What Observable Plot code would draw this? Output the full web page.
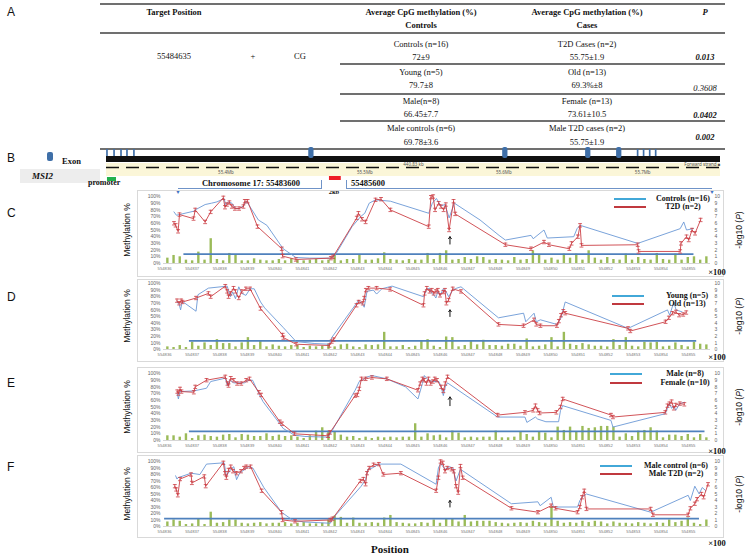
<!DOCTYPE html>
<html><head><meta charset="utf-8">
<script src="https://cdn.jsdelivr.net/npm/d3@7"></script>
<script src="https://cdn.jsdelivr.net/npm/@observablehq/plot@0.6"></script>
<style>
html,body{margin:0;padding:0;background:#fff}
#fig{position:relative;width:745px;height:556px;overflow:hidden;font-family:"Liberation Serif",serif;color:#111}
.tx{position:absolute;white-space:nowrap;line-height:1}
.hl{position:absolute;background:#707070}
.frame{position:absolute;border:1px solid #d9d9d9;box-sizing:border-box}
.abs{position:absolute}
</style></head><body><div id="fig"></div>
<script>
// ---------------- Panel A: table ----------------
const tableHeaders = ["Target Position", "Average CpG methylation (%)", "Controls", "Average CpG methylation (%)", "Cases", "P"];
const targetInfo = ["55484635", "+", "CG"];
const controlGroups = ["Controls (n=16)", "Young (n=5)", "Male(n=8)", "Male controls (n=6)"];
const controlValues = ["72±9", "79.7±8", "66.45±7.7", "69.78±3.6"];
const caseGroups = ["T2D Cases (n=2)", "Old (n=13)", "Female (n=13)", "Male T2D cases (n=2)"];
const caseValues = ["55.75±1.9", "69.3%±8", "73.61±10.5", "55.75±1.9"];
const pValues = ["0.013", "0.3608", "0.0402", "0.002"];
const pBold = [true, false, true, true];

// ---------------- Panel B: gene track ----------------
const exonsSmall = [55.3147, 55.3198, 55.3248, 55.3291, 55.3341, 55.6967, 55.7010, 55.7054, 55.7097];
const exonsLarge = [55.4615, 55.6011, 55.6608, 55.6831];
const geneSpan = [55.314, 55.756];
const rulerLabels = ["55.4Mb", "55.5Mb", "55.6Mb", "55.7Mb"];
const rulerPos = [55.40, 55.50, 55.60, 55.70];
const promoterSpan = [55.3147, 55.3212];
const regionSpan = [55.4745, 55.4830];

// ---------------- Panels C-F: methylation profiles ----------------
const targetPosition = 55484635;
const xTickLabels = [554836,554837,554838,554839,554840,554841,554842,554843,554844,554845,554846,554847,554848,554849,554850,554851,554852,554853,554854,554855];
const yTicks = [0,10,20,30,40,50,60,70,80,90,100];

const C_blue = [[554836.34,77],[554836.43,72],[554837.05,78],[554837.11,80],[554837.47,88],[554837.70,90],[554837.90,92],[554838.16,97],[554838.21,88],[554838.32,92],[554838.44,90],[554838.57,82],[554838.70,82],[554838.86,86],[554838.97,93],[554839.40,65],[554839.71,57],[554840.30,22],[554840.76,9],[554841.26,8],[554842.03,8],[554842.18,12],[554842.80,55],[554843.11,70],[554843.26,75],[554843.42,90],[554843.65,95],[554844.19,93],[554845.58,75],[554845.71,90],[554845.86,97],[554846.02,86],[554846.17,88],[554846.32,68],[554846.51,90],[554847.44,65],[554848.13,42],[554848.36,35],[554849.29,42],[554849.37,37],[554849.76,50],[554849.88,38],[554850.84,40],[554850.96,52],[554851.07,57],[554853.16,30],[554854.70,52],[554854.83,62],[554854.93,50],[554855.17,52]];
const C_red = [[554836.34,60],[554836.40,57],[554836.49,48],[554836.54,73],[554837.05,67],[554837.11,80],[554837.47,62],[554837.67,77],[554838.13,98],[554838.19,84],[554838.26,88],[554838.35,91],[554838.44,85],[554838.55,82],[554838.70,82],[554838.86,85],[554838.91,93],[554839.01,93],[554839.37,55],[554840.25,22],[554840.28,11],[554840.76,6],[554842.03,8],[554842.11,10],[554842.97,68],[554843.03,75],[554843.16,66],[554843.29,62],[554843.65,95],[554843.85,96],[554844.19,80],[554845.58,55],[554845.66,99],[554845.74,100],[554845.81,80],[554845.94,90],[554846.02,85],[554846.12,80],[554846.20,88],[554846.32,50],[554846.48,93],[554846.54,74],[554848.36,28],[554849.29,22],[554849.76,32],[554849.94,28],[554850.68,22],[554850.76,30],[554850.99,40],[554851.07,57],[554851.12,27],[554853.16,28],[554853.19,18],[554854.70,18],[554854.73,30],[554854.93,40],[554855.01,35],[554855.13,50],[554855.24,45],[554855.44,65]];
const C_bars = [0.8,1.2,1.0,0.5,0.4,1.7,0.5,3.7,0.6,0.4,1.5,1.2,0.4,0.4,0.7,0.5,0.4,0.4,0.6,0.4,0.7,0.5,0.4,0.5,0.6,0.4,0.5,1.3,0.4,0.6,0.6,1.2,0.5,0.5,0.7,1.6,0.6,0.5,0.4,0.6,0.5,0.5,1.5,0.6,1.5,1.9,0.5,0.6,0.9,0.6,1.0,0.9,0.5,0.6,0.5,0.4,0.9,0.5,0.6,1.9,1.3,0.5,0.8,0.5,1.4,0.8,1.4,0.5,1.9,0.8,0.5,0.9,0.6,0.5,1.4,0.5,0.9,0.6,0.5,1.5,0.6,0.5,1.4,0.5,0.9,1.0,0.5,1.0];

const D_blue = [[554836.45,72],[554836.53,68],[554836.58,60],[554836.64,73],[554837.14,58],[554837.21,83],[554837.59,93],[554838.27,96],[554838.39,80],[554838.47,87],[554838.57,77],[554838.69,95],[554838.80,85],[554838.95,82],[554839.10,92],[554839.25,92],[554839.48,72],[554839.63,63],[554840.31,33],[554840.77,12],[554841.45,9],[554841.98,8],[554842.06,18],[554842.96,70],[554843.04,75],[554843.19,68],[554843.24,64],[554843.34,88],[554843.57,90],[554843.69,84],[554843.88,92],[554844.25,96],[554845.39,80],[554845.51,91],[554845.61,93],[554845.69,85],[554845.76,83],[554845.84,78],[554845.91,88],[554845.99,82],[554846.11,92],[554846.22,87],[554846.30,80],[554846.45,90],[554846.60,93],[554846.75,95],[554848.11,48],[554849.02,55],[554849.10,42],[554849.40,55],[554849.48,42],[554849.63,45],[554850.23,38],[554850.38,48],[554850.53,72],[554852.81,32],[554854.24,60],[554854.32,52],[554854.47,72],[554854.55,60],[554854.77,57]];
const D_red = [[554836.45,74],[554836.53,70],[554836.60,74],[554836.65,72],[554837.14,78],[554837.59,85],[554837.67,80],[554838.20,96],[554838.27,88],[554838.32,80],[554838.39,85],[554838.50,93],[554838.57,88],[554838.69,78],[554838.80,88],[554838.95,92],[554839.10,92],[554839.48,62],[554840.28,22],[554840.31,18],[554840.77,8],[554841.98,6],[554842.06,12],[554842.13,15],[554842.96,67],[554843.04,72],[554843.19,70],[554843.24,78],[554843.30,90],[554843.39,93],[554843.69,93],[554844.18,91],[554845.39,67],[554845.43,85],[554845.51,93],[554845.61,88],[554845.69,90],[554845.76,85],[554845.84,88],[554845.91,90],[554845.99,82],[554846.11,87],[554846.17,90],[554846.22,70],[554846.30,75],[554846.45,92],[554846.75,88],[554848.11,38],[554849.02,36],[554849.40,45],[554849.48,38],[554849.63,36],[554850.23,36],[554850.30,43],[554850.38,52],[554850.46,58],[554850.53,55],[554852.81,32],[554852.89,28],[554854.17,42],[554854.29,48],[554854.42,55],[554854.55,57],[554854.66,52],[554854.81,53],[554854.92,56]];
const D_bars = [0.4,0.3,0.6,0.3,1.1,0.5,1.0,0.6,1.5,0.9,0.9,0.4,1.0,1.8,0.6,1.2,0.4,0.7,0.5,0.4,0.6,0.6,0.3,0.5,0.4,0.5,0.8,0.4,0.7,0.8,0.4,0.3,0.7,0.6,0.7,2.6,0.4,0.4,0.6,0.3,0.5,1.2,1.5,0.5,0.3,1.9,1.8,0.4,0.6,1.2,0.7,1.4,0.6,0.6,0.5,0.8,0.8,0.5,1.6,0.4,0.5,0.7,1.8,0.4,2.6,0.8,0.6,0.9,0.7,0.5,0.5,0.4,1.5,0.6,1.8,0.5,0.4,1.1,1.0,1.1,0.4,0.5,1.0,0.6,0.4,1.1,0.8,0.7];

const E_blue = [[554836.46,70],[554836.50,62],[554836.56,73],[554837.06,74],[554837.52,78],[554837.67,88],[554838.20,93],[554838.28,82],[554838.36,90],[554838.51,86],[554838.66,86],[554838.89,86],[554839.04,90],[554839.19,90],[554839.42,70],[554839.57,58],[554840.18,25],[554840.30,18],[554840.71,8],[554841.09,6],[554841.93,5],[554842.08,15],[554842.91,75],[554843.06,88],[554843.22,91],[554843.29,94],[554843.52,97],[554844.06,92],[554844.74,80],[554845.19,62],[554845.35,85],[554845.42,97],[554845.57,90],[554845.73,88],[554845.95,88],[554846.03,80],[554846.11,67],[554846.18,80],[554846.26,86],[554848.08,35],[554849.07,35],[554849.14,27],[554849.45,35],[554849.53,32],[554849.83,28],[554850.29,28],[554850.36,45],[554850.44,52],[554852.19,30],[554852.26,20],[554854.16,40],[554854.24,48],[554854.31,55],[554854.39,48],[554854.47,52],[554854.54,45],[554854.69,55],[554854.85,57]];
const E_red = [[554836.46,73],[554836.50,70],[554836.56,77],[554836.61,73],[554837.06,72],[554837.11,80],[554837.52,90],[554838.20,95],[554838.28,85],[554838.32,82],[554838.40,93],[554838.51,90],[554838.63,85],[554838.78,85],[554838.96,90],[554839.08,92],[554839.42,72],[554839.50,68],[554840.18,28],[554840.26,25],[554840.71,10],[554841.93,7],[554842.00,12],[554842.91,67],[554842.99,68],[554843.06,77],[554843.14,92],[554843.29,92],[554843.52,94],[554844.06,92],[554845.19,75],[554845.27,85],[554845.35,92],[554845.42,90],[554845.50,85],[554845.57,92],[554845.65,85],[554845.73,88],[554845.80,92],[554845.88,90],[554846.03,80],[554846.11,74],[554846.18,85],[554846.26,95],[554848.08,38],[554849.07,42],[554849.37,45],[554849.45,52],[554849.53,45],[554849.60,41],[554850.21,42],[554850.36,50],[554850.44,62],[554852.19,38],[554852.26,35],[554854.16,42],[554854.24,52],[554854.31,55],[554854.39,58],[554854.47,48],[554854.54,53],[554854.69,55],[554854.85,54]];
const E_bars = [0.7,0.7,0.5,1.0,0.3,0.7,0.8,0.6,0.5,0.8,0.9,0.4,0.9,0.8,0.6,0.6,1.0,0.6,0.8,0.6,0.7,0.5,0.3,0.7,1.4,1.9,1.4,1.2,0.8,0.5,0.6,0.3,0.5,0.3,0.5,0.4,0.5,0.4,0.5,0.5,2.5,0.5,1.0,0.7,0.8,0.4,1.4,1.1,0.4,0.5,0.4,0.5,0.5,1.4,0.4,0.4,0.5,1.2,0.9,0.5,1.3,1.1,0.4,2.0,1.5,2.0,1.3,2.1,1.8,1.9,2.1,2.1,2.0,0.5,1.0,0.6,1.4,1.5,1.9,1.4,0.4,0.8,0.8,0.6,0.9,0.4,0.9,0.4];

const F_blue = [[554836.40,78],[554836.45,73],[554836.48,75],[554836.96,82],[554837.28,80],[554837.52,96],[554838.16,98],[554838.24,78],[554838.40,88],[554838.51,92],[554838.61,72],[554838.72,82],[554839.04,92],[554839.20,90],[554839.60,60],[554840.24,22],[554840.64,10],[554841.05,7],[554842.01,5],[554842.09,12],[554843.13,62],[554843.29,72],[554843.37,88],[554843.53,90],[554843.77,96],[554844.57,96],[554845.85,65],[554845.93,90],[554846.01,97],[554846.17,88],[554846.33,92],[554846.46,90],[554846.57,70],[554846.73,88],[554848.58,35],[554849.54,38],[554849.62,32],[554850.02,45],[554850.10,30],[554850.18,30],[554850.98,30],[554851.06,40],[554851.14,45],[554851.30,50],[554853.63,22],[554854.99,48],[554855.07,40],[554855.23,62],[554855.39,50],[554855.50,60],[554855.63,55]];
const F_red = [[554836.37,62],[554836.42,57],[554836.48,48],[554836.56,73],[554836.96,80],[554836.99,67],[554837.44,77],[554837.49,62],[554838.13,98],[554838.19,82],[554838.24,75],[554838.32,87],[554838.40,92],[554838.48,85],[554838.61,82],[554838.77,85],[554838.88,90],[554838.96,92],[554839.12,92],[554839.52,55],[554840.24,22],[554840.28,10],[554840.73,8],[554842.01,10],[554842.09,12],[554843.10,70],[554843.21,73],[554843.29,65],[554843.34,82],[554843.42,90],[554843.58,95],[554843.77,96],[554843.93,80],[554844.57,82],[554845.85,55],[554845.93,75],[554846.01,100],[554846.09,98],[554846.17,85],[554846.25,90],[554846.41,88],[554846.49,85],[554846.57,62],[554846.65,52],[554846.73,93],[554846.81,75],[554848.58,28],[554849.54,22],[554850.02,32],[554850.18,28],[554850.98,22],[554851.06,30],[554851.14,45],[554851.22,55],[554851.30,27],[554853.63,27],[554853.71,18],[554854.99,18],[554855.07,28],[554855.23,35],[554855.31,42],[554855.47,50],[554855.55,45],[554855.71,65]];
const F_bars = [0.7,1.0,0.8,0.3,0.4,1.2,0.3,2.2,0.5,0.6,1.0,1.0,0.5,0.4,0.5,0.6,0.4,0.5,0.5,0.6,0.4,0.5,0.6,0.4,0.4,0.5,1.0,1.6,1.4,0.5,1.3,0.5,0.5,0.6,0.5,1.3,1.7,0.6,0.5,0.4,0.4,0.6,0.5,1.0,0.5,1.1,1.1,0.7,1.7,0.7,0.8,0.8,0.8,0.6,0.5,0.4,0.5,0.6,0.5,0.8,0.6,0.5,3.0,0.8,0.5,0.6,0.5,0.8,0.6,0.8,0.7,0.4,0.7,0.5,0.5,0.4,0.6,0.5,0.4,0.6,0.5,1.0,0.6,0.8,1.3,0.5,0.3,1.0];

const legendC = ["Controls (n=16)", "T2D (n=2)"];
const legendD = ["Young (n=5)", "Old (n=13)"];
const legendE = ["Male (n=8)", "Female (n=10)"];
const legendF = ["Male control (n=6)", "Male T2D (n=2)"];
const thresholds = {C: 1.4, D: 1.3, E: 1.35, F: 1.2};

// ---------------- layout helpers ----------------
const fig = document.getElementById("fig");
function text(str, x, y, opts = {}) {
  const d = document.createElement("div");
  d.className = "tx";
  d.innerHTML = str;
  const a = opts.anchor || "middle";
  const tx = a === "middle" ? "-50%" : a === "end" ? "-100%" : "0";
  d.style.left = x + "px"; d.style.top = y + "px";
  d.style.transform = `translate(${tx},-50%)` + (opts.rotate ? ` rotate(${opts.rotate}deg)` : "");
  d.style.fontSize = (opts.size || 8) + "px";
  if (opts.bold) d.style.fontWeight = "bold";
  if (opts.italic) d.style.fontStyle = "italic";
  if (opts.family) d.style.fontFamily = opts.family;
  if (opts.color) d.style.color = opts.color;
  fig.appendChild(d);
  return d;
}
function hline(x1, x2, y, w = 1, color = "#707070") {
  const d = document.createElement("div");
  d.className = "hl";
  Object.assign(d.style, {left: x1 + "px", top: (y - w / 2) + "px", width: (x2 - x1) + "px", height: w + "px", background: color});
  fig.appendChild(d);
}
function box(x1, y1, x2, y2, cls, style = {}) {
  const d = document.createElement("div");
  d.className = cls;
  Object.assign(d.style, {left: x1 + "px", top: y1 + "px", width: (x2 - x1) + "px", height: (y2 - y1) + "px"}, style);
  fig.appendChild(d);
  return d;
}
const SANS = '"Liberation Sans", Arial, sans-serif';

// ---------------- Panel A ----------------
text("A", 7, 12, {size: 12, family: SANS, anchor: "start"});
const colX = {target: 174, strand: 253, ctx: 300, ctrl: 421, cases: 587, p: 705};
const TS = 8.5;
hline(100, 725, 4, 2);
text(tableHeaders[0], colX.target, 12, {bold: true, size: TS});
text(tableHeaders[1], colX.ctrl, 12, {bold: true, size: TS});
text(tableHeaders[2], colX.ctrl, 25, {bold: true, size: TS});
text(tableHeaders[3], colX.cases, 12, {bold: true, size: TS});
text(tableHeaders[4], colX.cases, 25, {bold: true, size: TS});
text(tableHeaders[5], colX.p, 12, {bold: true, italic: true, size: TS});
hline(100, 725, 33, 1.2);
const rowName = [44, 72, 101, 128];
const rowVal = [57, 85, 114, 142];
const rowP = [57, 88, 115, 137];
const rowLine = [64, 94, 121];
text(targetInfo[0], colX.target, 56, {size: TS});
text(targetInfo[1], colX.strand, 56, {size: TS});
text(targetInfo[2], colX.ctx, 56, {size: TS});
for (let i = 0; i < 4; i++) {
  text(controlGroups[i], colX.ctrl, rowName[i], {size: TS});
  text(caseGroups[i], colX.cases, rowName[i], {size: TS});
  text(controlValues[i], colX.ctrl, rowVal[i], {size: TS});
  text(caseValues[i], colX.cases, rowVal[i], {size: TS});
  text(pValues[i], colX.p, rowP[i], {size: TS, italic: true, bold: pBold[i]});
  if (i < 3) hline(340, 725, rowLine[i], 1.4);
}
hline(100, 725, 148.5, 2);

// ---------------- Panel B ----------------
text("B", 7, 158, {size: 12, family: SANS, anchor: "start"});
box(47, 152, 53, 161, "abs", {background: "#3f6fa8", borderRadius: "2px"});
text("Exon", 62, 161, {bold: true, size: 8.5, anchor: "start"});
box(20, 169, 100, 183, "abs", {background: "#ededed"});
text("MSI2", 32, 176, {bold: true, italic: true, size: 9, anchor: "start"});
text("promoter", 88, 183, {bold: true, size: 8, anchor: "start"});

const geneTrack = Plot.plot({
  width: 745, height: 56,
  marginLeft: 106, marginRight: 25, marginTop: 0, marginBottom: 0,
  x: {domain: geneSpan, axis: null},
  y: {domain: [0, 56], range: [0, 56], axis: null},
  marks: [
    Plot.rect([0], {x1: geneSpan[0], x2: geneSpan[1], y1: 21, y2: 34, fill: "#fbf6d8"}),
    Plot.ruleY([25], {x1: geneSpan[0], x2: geneSpan[1], stroke: "#111", strokeWidth: 1.6, strokeDasharray: "13,7"}),
    Plot.text(rulerLabels, {x: (d, i) => rulerPos[i], y: 30, text: d => d, fontSize: 4.5, fill: "#555"}),
    Plot.text(["440.83 kb"], {x: (geneSpan[0] + geneSpan[1]) / 2, y: 22, fontSize: 4.5, fill: "#555"}),
    Plot.text(["Forward strand ■"], {x: geneSpan[1], y: 22, textAnchor: "end", fontSize: 4.5, fill: "#555"}),
    Plot.rect([0], {x1: geneSpan[0], x2: geneSpan[1], y1: 14, y2: 20, fill: "#111"}),
    Plot.rect(exonsSmall, {x1: d => d - 0.0006, x2: d => d + 0.0006, y1: 7, y2: 14, fill: "#3f6fa8"}),
    Plot.rect(exonsLarge, {x1: d => d - 0.0019, x2: d => d + 0.0019, y1: 5, y2: 16, fill: "#3f6fa8", rx: 2}),
    Plot.rect([0], {x1: promoterSpan[0], x2: promoterSpan[1], y1: 35, y2: 39, fill: "#22b14c"}),
    Plot.rect([0], {x1: regionSpan[0], x2: regionSpan[1], y1: 34, y2: 38, fill: "#ee1c24"})
  ]
});
geneTrack.style.position = "absolute"; geneTrack.style.left = "0px"; geneTrack.style.top = "142px";
fig.appendChild(geneTrack);

// brackets from region to the zoomed chart C
const bracketY = 188;
box(321, 180, 322, bracketY, "abs", {background: "#6f93c8"});
box(178, bracketY - 0.5, 322, bracketY + 0.5, "abs", {background: "#6f93c8"});
box(346, 180, 347, bracketY, "abs", {background: "#6f93c8"});
box(346, bracketY - 0.5, 712, bracketY + 0.5, "abs", {background: "#6f93c8"});
text("▼", 178, bracketY + 3, {size: 7, color: "#3f72c4", family: SANS});
text("▼", 712, bracketY + 3, {size: 7, color: "#3f72c4", family: SANS});
text("Chromosome 17: 55483600", 251, 183, {bold: true, size: 8.5});
text("55485600", 351, 183, {bold: true, size: 8.5, anchor: "start"});
text("2kb", 334, 192, {bold: true, size: 6.5});

// ---------------- Panels C-F ----------------
const COLORS = {blue: "#6b98d6", red: "#cc3f45", green: "#9bbb59", thr: "#4f81bd", legBlue: "#42a8d8", legRed: "#c0393f"};
const barFirst = 554836.1, barLast = 554855.65;
const PLOT_L = 163, PLOT_R = 710, X0 = 554835.96, X1 = 554855.8;

function methPanel(cfg) {
  const blue = cfg.blue.map(([x, y]) => ({x, y}));
  const red = cfg.red.map(([x, y]) => ({x, y}));
  const step = (barLast - barFirst) / (cfg.bars.length - 1);
  const bars = cfg.bars.map((v, i) => ({x: barFirst + i * step, v}));
  const err = 2.5, cap = 0.07;
  const mt = 6, mb = 12;
  const h = (cfg.y0 - cfg.y100) + mt + mb;
  const svgLeft = 120, width = 620;
  const chart = Plot.plot({
    width, height: h,
    marginLeft: PLOT_L - svgLeft, marginRight: svgLeft + width - PLOT_R, marginTop: mt, marginBottom: mb,
    x: {domain: [X0, X1]},
    y: {domain: [0, 100]},
    style: {fontFamily: SANS, background: "transparent", overflow: "visible"},
    marks: [
      Plot.axisY({anchor: "left", ticks: yTicks, tickFormat: d => d + "%", tickSize: 0, tickPadding: 3, fontSize: 5, fill: "#666", label: null}),
      Plot.axisY({anchor: "right", ticks: yTicks, tickFormat: d => d / 10, tickSize: 0, tickPadding: 4, fontSize: 5, fill: "#666", label: null}),
      Plot.axisX({ticks: xTickLabels, tickFormat: d => String(d), tickSize: 0, tickPadding: 4, fontSize: 4.2, fill: "#777", label: null}),
      Plot.ruleY([0], {stroke: "#bbb", strokeWidth: 0.6}),
      Plot.ruleX(bars, {x: "x", y1: 0, y2: d => d.v * 10, stroke: COLORS.green, strokeWidth: 2.4}),
      Plot.ruleY([cfg.thr * 10], {x1: cfg.thrRange[0], x2: cfg.thrRange[1], stroke: COLORS.thr, strokeWidth: 1.8}),
      Plot.line(blue, {x: "x", y: "y", stroke: COLORS.blue, strokeWidth: 0.9}),
      Plot.line(red, {x: "x", y: "y", stroke: COLORS.red, strokeWidth: 0.9}),
      Plot.ruleX(red, {x: "x", y1: d => d.y - err, y2: d => d.y + err, stroke: COLORS.red, strokeWidth: 0.8}),
      Plot.link(red, {x1: d => d.x - cap, x2: d => d.x + cap, y1: d => d.y + err, y2: d => d.y + err, stroke: COLORS.red, strokeWidth: 0.8}),
      Plot.link(red, {x1: d => d.x - cap, x2: d => d.x + cap, y1: d => d.y - err, y2: d => d.y - err, stroke: COLORS.red, strokeWidth: 0.8}),
      Plot.arrow([0], {x1: targetPosition / 100, x2: targetPosition / 100, y1: cfg.arrow[0], y2: cfg.arrow[1], stroke: "#111", strokeWidth: 1, headAngle: 70, headLength: 7})
    ]
  });
  chart.style.position = "absolute";
  chart.style.left = svgLeft + "px";
  chart.style.top = (cfg.y100 - mt) + "px";
  box(137, cfg.frame[0], 724, cfg.frame[1], "frame");
  fig.appendChild(chart);

  text(cfg.id, 7, cfg.letterY, {size: 12, family: SANS, anchor: "start"});
  const mid = (cfg.y100 + cfg.y0) / 2;
  text("Methylation %", 127, mid, {size: 8.5, family: SANS, rotate: -90});
  text("-log10 (<i>P</i>)", 739, mid, {size: 8.5, family: SANS, rotate: -90});
  text("×100", 717, cfg.x100Y, {size: 8.5, bold: true});
  // legend
  box(cfg.leg[0], cfg.leg[1] - 1, cfg.leg[0] + 32, cfg.leg[1] + 1, "abs", {background: COLORS.legBlue});
  box(cfg.leg[0], cfg.leg[2] - 1, cfg.leg[0] + 32, cfg.leg[2] + 1, "abs", {background: COLORS.legRed});
  text(cfg.legend[0], cfg.leg[3], cfg.leg[1], {size: 8, bold: true});
  text(cfg.legend[1], cfg.leg[3], cfg.leg[2], {size: 8, bold: true});
}

methPanel({id: "C", blue: C_blue, red: C_red, bars: C_bars, thr: thresholds.C, thrRange: [554836.7, 554855.2],
  y100: 196, y0: 263, frame: [190, 277], letterY: 213, x100Y: 272,
  legend: legendC, leg: [614, 199, 207, 683], arrow: [29, 40]});
methPanel({id: "D", blue: D_blue, red: D_red, bars: D_bars, thr: thresholds.D, thrRange: [554836.9, 554855.3],
  y100: 283, y0: 349, frame: [279, 362], letterY: 297, x100Y: 357,
  legend: legendD, leg: [612, 296, 304, 687], arrow: [50, 60]});
methPanel({id: "E", blue: E_blue, red: E_red, bars: E_bars, thr: thresholds.E, thrRange: [554836.9, 554855.6],
  y100: 373, y0: 440, frame: [367, 453], letterY: 383, x100Y: 451,
  legend: legendE, leg: [610, 374, 383, 685], arrow: [52, 65]});
methPanel({id: "F", blue: F_blue, red: F_red, bars: F_bars, thr: thresholds.F, thrRange: [554836.0, 554855.4],
  y100: 461, y0: 526, frame: [455, 538], letterY: 467, x100Y: 543,
  legend: legendF, leg: [600, 466, 474, 676], arrow: [30, 40]});

text("Position", 390, 549, {size: 11, bold: true});
</script></body></html>
